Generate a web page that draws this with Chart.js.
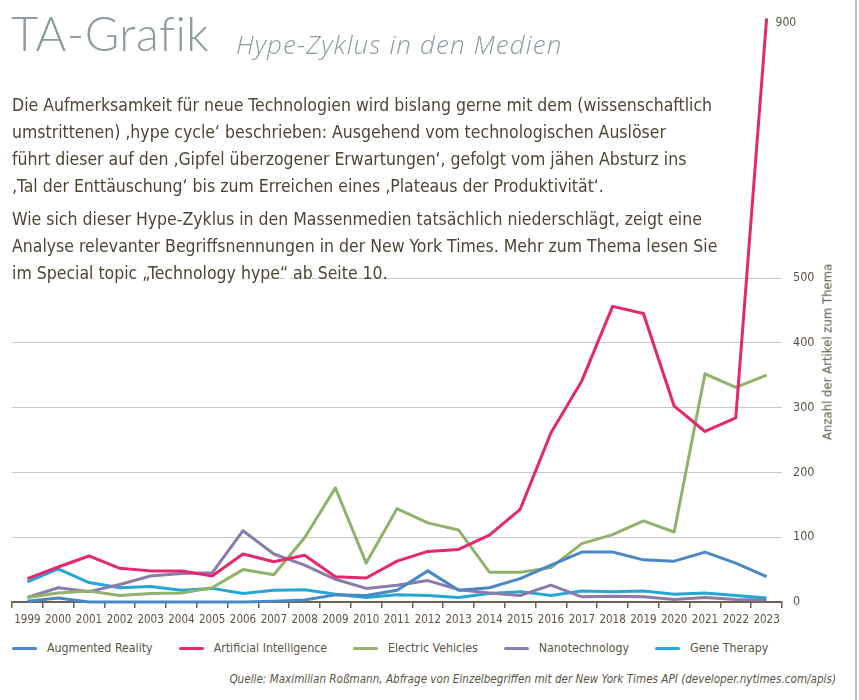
<!DOCTYPE html>
<html lang="de">
<head>
<meta charset="utf-8">
<title>TA-Grafik – Hype-Zyklus in den Medien</title>
<script src="https://cdn.jsdelivr.net/npm/chart.js@4.4.1/dist/chart.umd.min.js"></script>
<style>
  html, body { margin: 0; padding: 0; background: #fff; }
  body {
    width: 859px; height: 700px; position: relative; overflow: hidden;
    font-family: "DejaVu Sans Condensed", "Liberation Sans Narrow", Roboto, sans-serif;
    color: #4d4535;
  }
  #edge { position: absolute; left: 855px; top: 0; width: 2px; height: 700px; background: #b9c3c6; }
  #head { position: absolute; left: 11px; top: 5px; white-space: nowrap; color: #8c9b9f; }
  #head .big { font-family: Lato, "Open Sans", sans-serif; font-weight: 300; font-size: 47px; letter-spacing: 0.5px; }
  #head .sub {
    position: absolute; left: 225px; top: 21px;
    font-family: "Open Sans", sans-serif; font-style: italic; font-weight: 300; font-size: 26px; letter-spacing: 1.1px;
  }
  #intro { position: absolute; left: 12px; top: 92px; font-size: 17.5px; line-height: 27px; white-space: nowrap; }
  #intro p { margin: 0 0 6px 0; }
  #wrap { position: absolute; left: 0; top: 0; width: 852px; height: 640px; }
  #ytitle {
    position: absolute; left: 827px; top: 352px; white-space: nowrap;
    transform: translate(-50%, -50%) rotate(-90deg);
    font-size: 13px; color: #5b5344;
  }
  #legend { position: absolute; left: 12px; top: 641px; display: flex; white-space: nowrap; font-size: 12.3px; color: #5b5344; }
  #legend .item { display: flex; align-items: center; margin-right: 26px; }
  #legend .sw { width: 25px; height: 3px; border-radius: 2px; margin-right: 10px; }
  #source { position: absolute; right: 23px; top: 672px; font-style: italic; font-size: 11.6px; color: #5b5344; white-space: nowrap; }
</style>
</head>
<body>
<div id="wrap"><canvas id="hypeChart"></canvas></div>
<div id="edge"></div>
<div id="head"><span class="big">TA-Grafik</span><span class="sub">Hype-Zyklus in den Medien</span></div>
<div id="intro">
  <p>Die Aufmerksamkeit für neue Technologien wird bislang gerne mit dem (wissenschaftlich<br>
  umstrittenen) ‚hype cycle‘ beschrieben: Ausgehend vom technologischen Auslöser<br>
  führt dieser auf den ‚Gipfel überzogener Erwartungen‘, gefolgt vom jähen Absturz ins<br>
  ‚Tal der Enttäuschung‘ bis zum Erreichen eines ‚Plateaus der Produktivität‘.</p>
  <p>Wie sich dieser Hype-Zyklus in den Massenmedien tatsächlich niederschlägt, zeigt eine<br>
  Analyse relevanter Begriffsnennungen in der New York Times. Mehr zum Thema lesen Sie<br>
  im Special topic „Technology hype“ ab Seite 10.</p>
</div>
<div id="ytitle">Anzahl der Artikel zum Thema</div>
<div id="legend"></div>
<div id="source">Quelle: Maximilian Roßmann, Abfrage von Einzelbegriffen mit der New York Times API (developer.nytimes.com/apis)</div>

<script>
const years = ["1999", "2000", "2001", "2002", "2003", "2004", "2005", "2006", "2007", "2008", "2009", "2010",
    "2011", "2012", "2013", "2014", "2015", "2016", "2017", "2018", "2019", "2020", "2021", "2022", "2023"];

const augmentedReality = [1, 6, 0, 0, 0, 0, 0, 0, 1, 3, 11, 10, 18, 48, 18, 22, 36, 57, 77, 77, 65, 63, 77, 60, 39];
const artificialIntelligence = [36, 54, 71, 52, 48, 48, 40, 74, 62, 72, 39, 37, 63, 78, 81, 103, 143, 261, 341, 456, 445, 302, 263, 284, 900];
const electricVehicles = [7, 14, 17, 10, 13, 14, 22, 50, 42, 99, 176, 60, 144, 122, 111, 46, 46, 53, 90, 104, 125, 108, 352, 331, 350];
const nanotechnology = [7, 22, 16, 27, 40, 44, 45, 110, 74, 57, 35, 21, 26, 33, 19, 14, 10, 26, 8, 9, 8, 4, 7, 4, 3];
const geneTherapy = [31, 51, 30, 22, 24, 18, 21, 13, 18, 19, 12, 7, 11, 10, 7, 13, 16, 10, 17, 16, 17, 12, 14, 10, 6];

const seriesNames = ["Augmented Reality", "Artificial Intelligence", "Electric Vehicles", "Nanotechnology", "Gene Therapy"];
const seriesColors = ["#4a87c4", "#e5276f", "#91b26a", "#8a7bab", "#24a7d4"];
const yTicks = [0, 100, 200, 300, 400, 500];

const textColor = "#5b5344";
const gridColor = "#c8c8c8";
const fontFamily = "'DejaVu Sans Condensed', 'Liberation Sans Narrow', Roboto, sans-serif";

// legend in html, same order as the datasets
const legendBox = document.getElementById("legend");
seriesNames.forEach((name, i) => {
    const item = document.createElement("div");
    item.className = "item";
    item.innerHTML = `<span class="sw" style="background:${seriesColors[i]}"></span><span>${name}</span>`;
    legendBox.appendChild(item);
});

// 500 grid line is partly hidden behind the intro text in the original
const topGridLine = {
    id: "topGridLine",
    beforeDatasetsDraw(chart) {
        const { ctx, chartArea, scales } = chart;
        const y = Math.round(scales.y.getPixelForValue(500)) + 0.5;
        ctx.save();
        ctx.strokeStyle = gridColor;
        ctx.lineWidth = 1;
        ctx.setLineDash([6, 5]);
        ctx.beginPath();
        ctx.moveTo(268, y);
        ctx.lineTo(332, y);
        ctx.stroke();
        ctx.setLineDash([]);
        ctx.beginPath();
        ctx.moveTo(332, y);
        ctx.lineTo(chartArea.right, y);
        ctx.stroke();
        ctx.restore();
    }
};

// value label at the last AI point
const peakLabel = {
    id: "peakLabel",
    afterDatasetsDraw(chart) {
        const meta = chart.getDatasetMeta(1);
        const pt = meta.data[meta.data.length - 1];
        const { ctx } = chart;
        ctx.save();
        ctx.fillStyle = textColor;
        ctx.font = `12px ${fontFamily}`;
        ctx.textBaseline = "middle";
        ctx.fillText(String(artificialIntelligence[artificialIntelligence.length - 1]), pt.x + 9, pt.y + 4);
        ctx.restore();
    }
};

const allSeries = [augmentedReality, artificialIntelligence, electricVehicles, nanotechnology, geneTherapy];

new Chart(document.getElementById("hypeChart"), {
    type: "line",
    data: {
        labels: years,
        datasets: allSeries.map((data, i) => ({
            label: seriesNames[i],
            data: data,
            borderColor: seriesColors[i],
            backgroundColor: seriesColors[i],
            borderWidth: 3,
            pointRadius: 0,
            tension: 0,
            clip: false,
            borderJoinStyle: "round"
        }))
    },
    options: {
        responsive: true,
        maintainAspectRatio: false,
        animation: false,
        layout: { padding: { left: 12, top: 17, right: 0, bottom: 0 } },
        plugins: {
            legend: { display: false },
            tooltip: { enabled: false }
        },
        scales: {
            x: {
                offset: true,
                afterFit(scale) { scale.height = 38; },
                grid: {
                    offset: true,
                    drawOnChartArea: false,
                    drawTicks: true,
                    tickLength: 6,
                    color: "#6b6250",
                    lineWidth: 1.5
                },
                border: { display: true, color: "#6b6250", width: 2 },
                ticks: { color: textColor, font: { family: fontFamily, size: 11.5 }, padding: 5, maxRotation: 0, autoSkip: false }
            },
            y: {
                position: "right",
                min: 0,
                max: 900,
                afterBuildTicks(scale) { scale.ticks = yTicks.map(v => ({ value: v })); },
                afterFit(scale) { scale.width = 70; },
                grid: {
                    drawTicks: false,
                    color: ctx => (ctx.tick && ctx.tick.value === 500) ? "rgba(0,0,0,0)" : gridColor,
                    lineWidth: 1
                },
                border: { display: false },
                ticks: { color: textColor, font: { family: fontFamily, size: 12.5 }, padding: 11 }
            }
        }
    },
    plugins: [topGridLine, peakLabel]
});
</script>
</body>
</html>
